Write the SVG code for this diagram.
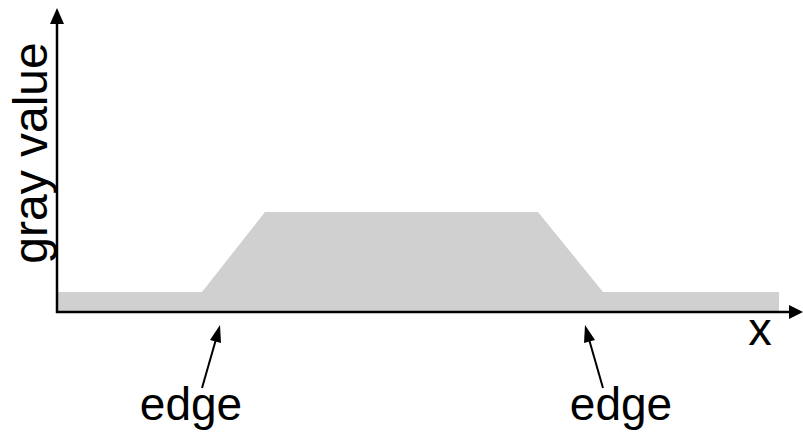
<svg xmlns="http://www.w3.org/2000/svg" width="803" height="439" viewBox="0 0 803 439">
<defs>
<style>
.t{font-family:"Liberation Sans",Arial,sans-serif;fill:#000}
.ax{stroke:#000;stroke-width:2.5;fill:none}
.ar{stroke:#000;stroke-width:2;fill:none}
</style>
</defs>
<rect width="803" height="439" fill="#fff"/>
<g id="profile">
<polygon points="57,292 202,292 265,212 538,212 603,292 779,292 779,311 57,311" fill="#d0d0d0"/>
</g>
<g id="axes">
<line class="ax" x1="57" y1="313" x2="57" y2="20"/>
<polygon points="57,8 50,24 64,24" fill="#000"/>
<line class="ax" x1="56" y1="312" x2="792" y2="312"/>
<polygon points="803,312 789,305 789,319" fill="#000"/>
</g>
<g id="connectors">
<line class="ar" x1="202" y1="388" x2="215.5" y2="341"/>
<polygon points="220,325 210,340 221,343" fill="#000"/>
<line class="ar" x1="603" y1="388" x2="589.5" y2="341"/>
<polygon points="585,325 584,343 595,340" fill="#000"/>
</g>
<g id="labels">
<text class="t" x="0" y="0" font-size="48" transform="translate(47,153) rotate(-90)" text-anchor="middle">gray value</text>
<text class="t" x="760" y="345" font-size="47" text-anchor="middle">x</text>
<text class="t" x="191" y="420" font-size="46" text-anchor="middle">edge</text>
<text class="t" x="621" y="420" font-size="46" text-anchor="middle">edge</text>
</g>
</svg>
